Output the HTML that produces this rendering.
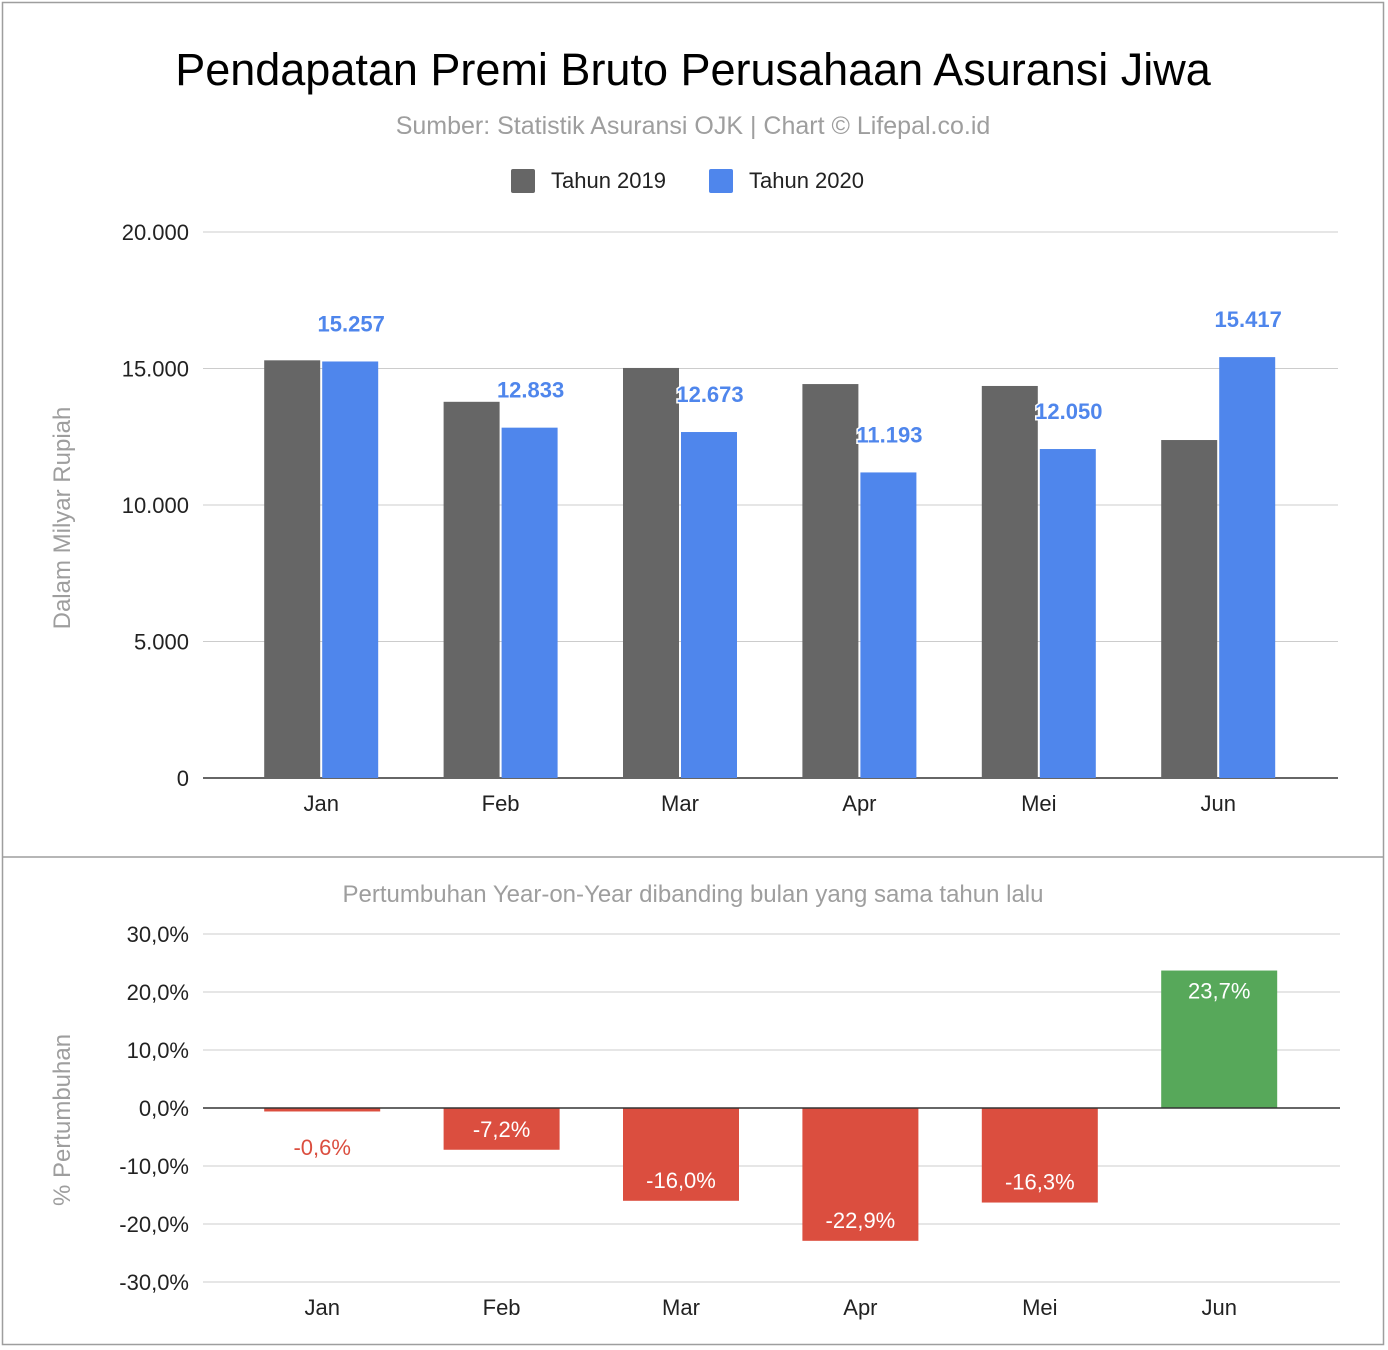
<!DOCTYPE html>
<html><head><meta charset="utf-8">
<style>
html,body{margin:0;padding:0;background:#fff;}
body{width:1388px;height:1350px;position:relative;font-family:"Liberation Sans",Arial,sans-serif;}
svg{position:absolute;left:0;top:0;}
</style></head>
<body>
<svg width="1388" height="1350" viewBox="0 0 1388 1350" xmlns="http://www.w3.org/2000/svg" font-family="Liberation Sans, Arial, sans-serif">
<rect x="2.5" y="2.5" width="1381" height="1342" fill="#fff" stroke="#9e9e9e" stroke-width="1.5"/>
<line x1="2" y1="857" x2="1384" y2="857" stroke="#9e9e9e" stroke-width="1.5"/>
<text x="693" y="85" text-anchor="middle" font-size="45" fill="#000">Pendapatan Premi Bruto Perusahaan Asuransi Jiwa</text>
<text x="693" y="134" text-anchor="middle" font-size="25" fill="#9e9e9e">Sumber: Statistik Asuransi OJK | Chart © Lifepal.co.id</text>
<g>
<rect x="511" y="169" width="24" height="24" rx="2" fill="#666"/>
<text x="551" y="188" font-size="22" fill="#222">Tahun 2019</text>
<rect x="709" y="169" width="24" height="24" rx="2" fill="#4f86ec"/>
<text x="749" y="188" font-size="22" fill="#222">Tahun 2020</text>
</g>
<text transform="translate(70,518) rotate(-90)" text-anchor="middle" font-size="24" fill="#9e9e9e">Dalam Milyar Rupiah</text>
<text transform="translate(70,1120) rotate(-90)" text-anchor="middle" font-size="24" fill="#9e9e9e">% Pertumbuhan</text>
<text x="693" y="902" text-anchor="middle" font-size="24" fill="#9e9e9e">Pertumbuhan Year-on-Year dibanding bulan yang sama tahun lalu</text>
<g id="top"></g>
<g id="bottom"></g>
</svg>
<script>
const months = ["Jan","Feb","Mar","Apr","Mei","Jun"];
const values2019 = [15300, 13780, 15020, 14430, 14360, 12380];
const values2020 = [15257, 12833, 12673, 11193, 12050, 15417];
const labels2020 = ["15.257","12.833","12.673","11.193","12.050","15.417"];
const topTicks = [0, 5000, 10000, 15000, 20000];
const topTickLabels = ["0","5.000","10.000","15.000","20.000"];
const growth = [-0.6, -7.2, -16.0, -22.9, -16.3, 23.7];
const growthLabels = ["-0,6%","-7,2%","-16,0%","-22,9%","-16,3%","23,7%"];
const botTicks = [-30, -20, -10, 0, 10, 20, 30];
const botTickLabels = ["-30,0%","-20,0%","-10,0%","0,0%","10,0%","20,0%","30,0%"];

const NS = "http://www.w3.org/2000/svg";
function mk(parent, tag, attrs, txt){const e=document.createElementNS(NS,tag);for(const k in attrs)e.setAttribute(k,attrs[k]);if(txt!==undefined)e.textContent=txt;parent.appendChild(e);return e;}
const bandStart = 231.5, bandW = 179.4;
function xc(i){return bandStart + bandW*(i+0.5);}
function yTop(v){return 778 - v*(546/20000);}
function yBot(v){return 1108 - v*5.8;}

const gt = document.getElementById("top");
topTicks.forEach((t,i)=>{
  const y=yTop(t);
  const l=mk(gt,"line",{x1:203,x2:1338,y1:y,y2:y,stroke:t===0?"#333":"#ccc","stroke-width":t===0?1.5:1});
  
  
  const tx=mk(gt,"text",{x:189,y:y+8,"text-anchor":"end","font-size":22,fill:"#222"},topTickLabels[i]);
  
  
});
months.forEach((m,i)=>{
  const c=xc(i);
  const y1=yTop(values2019[i]);
  const b1=mk(gt,"rect",{x:c-57,y:y1,width:56,height:778-y1,fill:"#666"});
  
  
  const y2=yTop(values2020[i]);
  const b2=mk(gt,"rect",{x:c+1,y:y2,width:56,height:778-y2,fill:"#4f86ec"});
  
  
  const lb=mk(gt,"text",{x:c+30,y:y2-30,"text-anchor":"middle","font-size":22,"font-weight":"bold",fill:"#4f86ec",stroke:"#fff","stroke-width":3,"paint-order":"stroke"},labels2020[i]);
  
  
  const xl=mk(gt,"text",{x:c,y:811,"text-anchor":"middle","font-size":22,fill:"#222"},m);
  
  
});

const gb = document.getElementById("bottom");
botTicks.forEach((t,i)=>{
  const y=yBot(t);
  if(t!==0){const l=mk(gb,"line",{x1:203,x2:1340,y1:y,y2:y,stroke:"#ccc","stroke-width":1});
  
  }
  const tx=mk(gb,"text",{x:189,y:y+8,"text-anchor":"end","font-size":22,fill:"#222"},botTickLabels[i]);
  
  
});
months.forEach((m,i)=>{
  const c=xc(i)+1;
  const v=growth[i];
  const y0=yBot(0), yv=yBot(v);
  const top=Math.min(y0,yv), h=Math.abs(yv-y0);
  const b=mk(gb,"rect",{x:c-58,y:top,width:116,height:Math.max(h,1),fill:v<0?"#db4e3f":"#57a85a"});
  
  
  let ly, col="#fff";
  if(h<30){ly=y0+47;col="#db4e3f";}
  else if(v<0){ly=yv-13;}
  else {ly=yv+28;}
  const lb=mk(gb,"text",{x:c,y:ly,"text-anchor":"middle","font-size":22,fill:col},growthLabels[i]);
  
  
  const xl=mk(gb,"text",{x:c,y:1315,"text-anchor":"middle","font-size":22,fill:"#222"},m);
  
  
});
const zl=mk(gb,"line",{x1:203,x2:1340,y1:yBot(0),y2:yBot(0),stroke:"#333","stroke-width":1.5});


</script>
</body></html>
